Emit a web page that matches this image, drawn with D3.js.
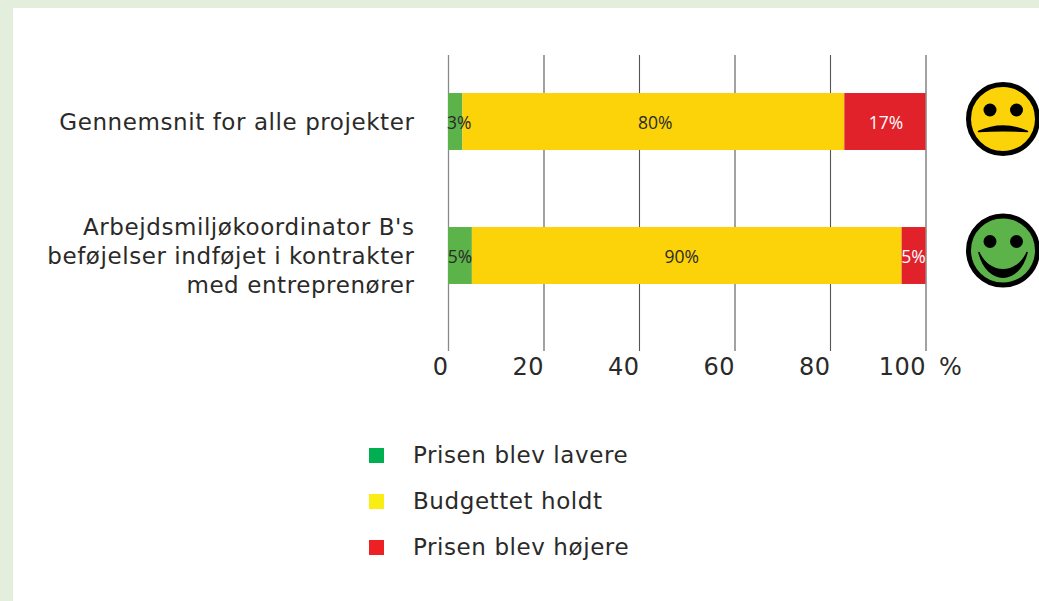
<!DOCTYPE html>
<html>
<head>
<meta charset="utf-8">
<script src="https://cdn.jsdelivr.net/npm/d3@7"></script>
<style>
  body { margin: 0; background: #fff; overflow: hidden; }
  text { font-family: "DejaVu Sans", Verdana, sans-serif; fill: #2b2a29; }
  .val { font-family: "Open Sans", sans-serif; font-size: 17.5px; }
  .cat, .leg text { letter-spacing: 0.58px; }
  .tick text { letter-spacing: 0.5px; }
</style>
</head>
<body>
<script>
// Data
const categories = [
  ["Gennemsnit for alle projekter"],
  ["Arbejdsmiljøkoordinator B's", "beføjelser indføjet i kontrakter", "med entreprenører"]
];
const lower = [3, 5];
const held = [80, 90];
const higher = [17, 5];
const moods = ["sad", "happy"];
const xTicks = [0, 20, 40, 60, 80, 100];
const legendLabels = ["Prisen blev lavere", "Budgettet holdt", "Prisen blev højere"];

const barColors = ["#5cb349", "#fbd308", "#e1222b"];
const legendColors = ["#00b050", "#f9ed13", "#ed2024"];

// SVG
const svg = d3.select("body").append("svg")
    .attr("width", 1039)
    .attr("height", 601);

// Green page frame
svg.append("rect").attr("width", 1039).attr("height", 601).attr("fill", "#e4eedd");
svg.append("rect").attr("x", 13).attr("y", 8).attr("width", 1026).attr("height", 593).attr("fill", "#fff");

const x = d3.scaleLinear().domain([0, 100]).range([448, 925.5]);
const y = d3.scaleBand().domain(d3.range(categories.length))
    .range([54.5, 322.5])
    .paddingInner(0.575)
    .paddingOuter(0.2875);

// Axis with gridlines
const axis = svg.append("g")
    .attr("transform", "translate(0,55)")
    .call(d3.axisBottom(x).tickValues(xTicks).tickSize(296).tickPadding(0).tickFormat(d3.format("d")));
axis.select(".domain").remove();
axis.selectAll(".tick line")
    .attr("stroke", (d, i) => i == 0 ? "#8a8a8a" : "#555")
    .attr("stroke-width", (d, i) => i == 0 ? 1.3 : 1.1);
axis.selectAll(".tick text")
    .attr("y", 320)
    .attr("dy", 0)
    .attr("text-anchor", "end")
    .attr("font-size", 24)
    .attr("font-family", null)
    .style("fill", "#2b2a29");

svg.append("text")
    .attr("x", 939)
    .attr("y", 375)
    .attr("font-size", 24)
    .text("%");

// Stacked bars
const rows = categories.map((c, i) => ({ i: i, lower: lower[i], held: held[i], higher: higher[i] }));
const stack = d3.stack().keys(["lower", "held", "higher"])(rows);
const segments = stack.flatMap((s, k) => s.map(d => ({ d: d, k: k })));

svg.append("g").selectAll("rect").data(segments).join("rect")
    .attr("x", p => x(p.d[0]))
    .attr("y", p => y(p.d.data.i))
    .attr("width", p => x(p.d[1]) - x(p.d[0]))
    .attr("height", y.bandwidth())
    .attr("fill", p => barColors[p.k]);

// the labels are not quite centred in the segments
const nudge = [[4, 2, 1], [0, -5, 0]];
svg.append("g").selectAll("text").data(segments).join("text")
    .attr("class", "val")
    .attr("x", p => x((p.d[0] + p.d[1]) / 2) + nudge[p.d.data.i][p.k])
    .attr("y", p => y(p.d.data.i) + y.bandwidth() / 2 + 7)
    .attr("text-anchor", "middle")
    .style("fill", p => p.k == 2 ? "#fff" : "#2b2a29")
    .text(p => (p.d[1] - p.d[0]) + "%");

// Category labels
const cats = svg.selectAll(".cat").data(categories).join("text")
    .attr("class", "cat")
    .attr("text-anchor", "end")
    .attr("font-size", 23);
cats.selectAll("tspan").data((lines, i) => lines.map((l, j) => ({ l: l, j: j, n: lines.length, i: i }))).join("tspan")
    .attr("x", 414.5)
    .attr("y", d => y(d.i) + y.bandwidth() / 2 + 8 + (d.j - (d.n - 1) / 2) * 29)
    .text(d => d.l);

// Smileys
const smile = svg.selectAll(".smile").data(moods).join("g")
    .attr("class", "smile")
    .attr("transform", (m, i) => "translate(1003," + (y(i) + y.bandwidth() / 2 - 2.5 - 2.5 * i) + ")");
smile.append("circle")
    .attr("r", 34.5)
    .attr("fill", m => m == "sad" ? barColors[1] : barColors[0])
    .attr("stroke", "#000")
    .attr("stroke-width", 5);
smile.selectAll(".eye").data([-13, 13.5]).join("circle")
    .attr("class", "eye")
    .attr("cx", d => d)
    .attr("cy", -9)
    .attr("r", 6.5)
    .attr("fill", "#000");
smile.append("path")
    .attr("d", m => m == "sad"
        ? "M-24.5,12.5 Q0,1.5 24.5,12.5 Q0,11 -24.5,12.5 Z"
        : "M-24,2 C-16,35 16,35 24,2 C14,25 -14,25 -24,2 Z")
    .attr("fill", "#000")
    .attr("stroke", "#000")
    .attr("stroke-width", 1.5)
    .attr("stroke-linejoin", "round");

// Legend
const leg = svg.selectAll(".leg").data(legendLabels).join("g")
    .attr("class", "leg")
    .attr("transform", (d, i) => "translate(369," + (448 + i * 46) + ")");
leg.append("rect")
    .attr("width", 15)
    .attr("height", 15)
    .attr("fill", (d, i) => legendColors[i]);
leg.append("text")
    .attr("x", 44)
    .attr("y", 15)
    .attr("font-size", 23)
    .text(d => d);
</script>
</body>
</html>
